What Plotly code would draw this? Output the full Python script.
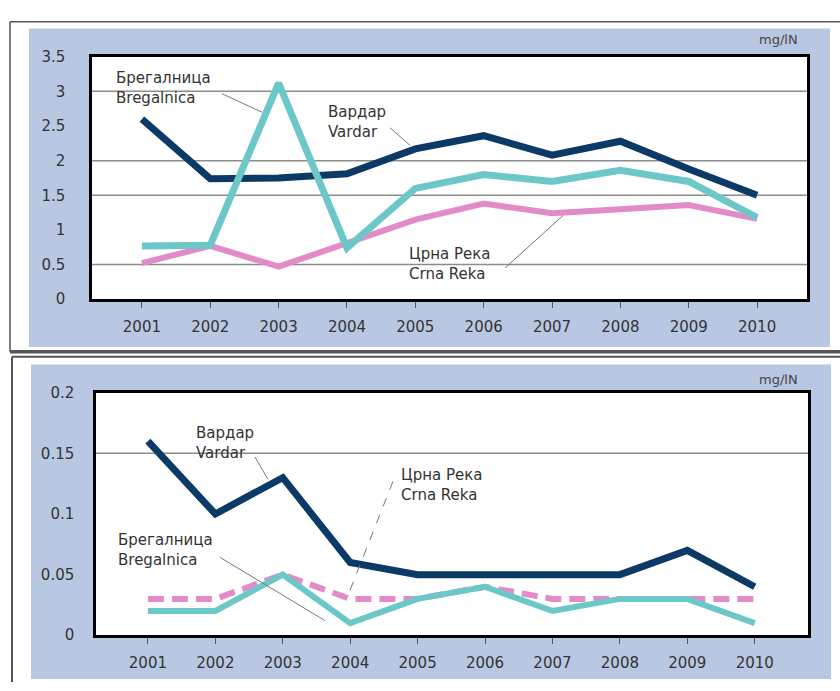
import plotly.graph_objects as go

# ---------------- data ----------------
years = [2001, 2002, 2003, 2004, 2005, 2006, 2007, 2008, 2009, 2010]

top_vardar = [2.6, 1.74, 1.75, 1.81, 2.17, 2.36, 2.08, 2.28, 1.88, 1.5]
top_bregalnica = [0.77, 0.78, 3.12, 0.74, 1.6, 1.8, 1.7, 1.86, 1.7, 1.18]
top_crna = [0.52, 0.77, 0.47, 0.8, 1.15, 1.38, 1.24, 1.3, 1.36, 1.16]

bot_vardar = [0.16, 0.10, 0.13, 0.06, 0.05, 0.05, 0.05, 0.05, 0.07, 0.04]
bot_crna = [0.03, 0.03, 0.05, 0.03, 0.03, 0.04, 0.03, 0.03, 0.03, 0.03]
bot_bregalnica = [0.02, 0.02, 0.05, 0.01, 0.03, 0.04, 0.02, 0.03, 0.03, 0.01]

top_ticks = [0, 0.5, 1, 1.5, 2, 2.5, 3, 3.5]
top_ticktext = ["0", "0.5", "1", "1.5", "2", "2.5", "3", "3.5"]
top_grid = [0.5, 1.5, 2, 3]
bot_ticks = [0, 0.05, 0.1, 0.15, 0.2]
bot_ticktext = ["0", "0.05", "0.1", "0.15", "0.2"]
bot_grid = [0.15]

unit = "mg/lN"
lbl_vardar = "Вардар<br>Vardar"
lbl_bregalnica = "Брегалница<br>Bregalnica"
lbl_crna = "Црна Река<br>Crna Reka"

# ---------------- style ----------------
W, H = 840, 691
NAVY = "#0b3a66"
CYAN = "#6cc8c8"
PINK = "#e38bc9"
BLUE_BG = "#b9c8e2"
FONT = "DejaVu Sans, Liberation Sans, Arial, sans-serif"
TXT = "#333333"


def X(px):
    return px / W


def Y(py):
    return 1 - py / H


fig = go.Figure()

# top panel traces
fig.add_trace(go.Scatter(x=years, y=top_crna, mode="lines", line=dict(color=PINK, width=6),
                         xaxis="x", yaxis="y", showlegend=False, hoverinfo="skip"))
fig.add_trace(go.Scatter(x=years, y=top_vardar, mode="lines", line=dict(color=NAVY, width=7),
                         xaxis="x", yaxis="y", showlegend=False, hoverinfo="skip"))
fig.add_trace(go.Scatter(x=years, y=top_bregalnica, mode="lines", line=dict(color=CYAN, width=7),
                         xaxis="x", yaxis="y", showlegend=False, hoverinfo="skip"))

# bottom panel traces
fig.add_trace(go.Scatter(x=years, y=bot_vardar, mode="lines", line=dict(color=NAVY, width=7),
                         xaxis="x2", yaxis="y2", showlegend=False, hoverinfo="skip"))
fig.add_trace(go.Scatter(x=years, y=bot_crna, mode="lines",
                         line=dict(color=PINK, width=6, dash="16px,8px"),
                         xaxis="x2", yaxis="y2", showlegend=False, hoverinfo="skip"))
fig.add_trace(go.Scatter(x=years, y=bot_bregalnica, mode="lines", line=dict(color=CYAN, width=6),
                         xaxis="x2", yaxis="y2", showlegend=False, hoverinfo="skip"))

axis_common = dict(showline=True, mirror=True, linecolor="black", linewidth=2.5,
                   zeroline=False, showgrid=False,
                   tickfont=dict(family=FONT, size=15, color=TXT))

fig.update_layout(
    width=W, height=H,
    margin=dict(l=0, r=0, t=0, b=0),
    paper_bgcolor="white",
    plot_bgcolor="white",
    font=dict(family=FONT, color=TXT),
    xaxis=dict(domain=[X(92), X(807)], anchor="y", range=[2000.27, 2010.73],
               tickvals=years, ticks="outside", ticklen=6, tickcolor="#555", tickwidth=1,
               ticklabelstandoff=6, **axis_common),
    yaxis=dict(domain=[Y(298), Y(49)], anchor="x", range=[0, 3.5],
               tickvals=top_ticks, ticktext=top_ticktext, ticks="",
               ticklabelstandoff=21, **axis_common),
    xaxis2=dict(domain=[X(96), X(808)], anchor="y2", range=[2000.23, 2010.79],
                tickvals=years, ticks="outside", ticklen=6, tickcolor="#555", tickwidth=1,
                ticklabelstandoff=6, **axis_common),
    yaxis2=dict(domain=[Y(643), Y(394)], anchor="x2", range=[0, 0.2],
                tickvals=bot_ticks, ticktext=bot_ticktext, ticks="",
                ticklabelstandoff=16, **axis_common),
)


def rect_path(x0, y0, x1, y1):
    return f"M{X(x0)},{Y(y0)} L{X(x1)},{Y(y0)} L{X(x1)},{Y(y1)} L{X(x0)},{Y(y1)} Z"


shapes = []
# blue panel backgrounds with a hole for the plot area
panels = [((29, 20, 830, 347), (92, 49, 807, 298)),
          ((31, 365, 831, 688), (96, 394, 808, 643))]
for outer, inner in panels:
    shapes.append(dict(type="path", xref="paper", yref="paper",
                       path=rect_path(*outer) + " " + rect_path(*inner),
                       fillrule="evenodd", fillcolor=BLUE_BG, line=dict(width=0), layer="below"))
# horizontal gridlines (only at selected levels, as in the original)
for xr, yr, vals in (("x domain", "y", top_grid), ("x2 domain", "y2", bot_grid)):
    for v in vals:
        shapes.append(dict(type="line", xref=xr, yref=yr, x0=0, x1=1, y0=v, y1=v,
                           line=dict(color="#8c8c8c", width=1.5), layer="below"))
# panel frame lines
frame = [((10, 13), (840, 13), 1.5), ((10, 13), (10, 352), 1.5), ((10, 352), (840, 352), 3.5),
         ((12, 357), (840, 357), 2), ((12, 357), (12, 691), 2)]
for (x0, y0), (x1, y1), w in frame:
    shapes.append(dict(type="line", xref="paper", yref="paper", x0=X(x0), y0=Y(y0), x1=X(x1), y1=Y(y1),
                       line=dict(color="#555555", width=w)))
# leader lines
leaders = [((222, 87), (262, 106), "solid"), ((390, 122), (410, 140), "solid"),
           ((505, 266), (563, 212), "solid"),
           ((255, 460), (268, 483), "solid"), ((393, 485), (348, 602), "dash"),
           ((220, 563), (325, 628), "solid")]
for (x0, y0), (x1, y1), d in leaders:
    shapes.append(dict(type="line", xref="paper", yref="paper", x0=X(x0), y0=Y(y0), x1=X(x1), y1=Y(y1),
                       line=dict(color="#777777", width=1, dash=d)))
fig.update_layout(shapes=shapes)

anns = []
labels = [(lbl_bregalnica, 115, 81), (lbl_vardar, 327, 116), (lbl_crna, 408, 262),
          (lbl_vardar, 195, 446), (lbl_crna, 400, 489), (lbl_bregalnica, 117, 555)]
for t, px, py in labels:
    anns.append(dict(text=t, xref="paper", yref="paper", x=X(px), y=Y(py), xanchor="left",
                     yanchor="middle", align="left", showarrow=False, borderpad=0,
                     font=dict(family=FONT, size=15, color=TXT)))
for py in (31, 380):
    anns.append(dict(text=unit, xref="paper", yref="paper", x=X(778), y=Y(py), xanchor="center",
                     yanchor="middle", showarrow=False, font=dict(family=FONT, size=13, color="#444")))
fig.update_layout(annotations=anns)

fig.write_html("out.html", config={"displayModeBar": False},
               post_script="document.body.style.margin='0';")
